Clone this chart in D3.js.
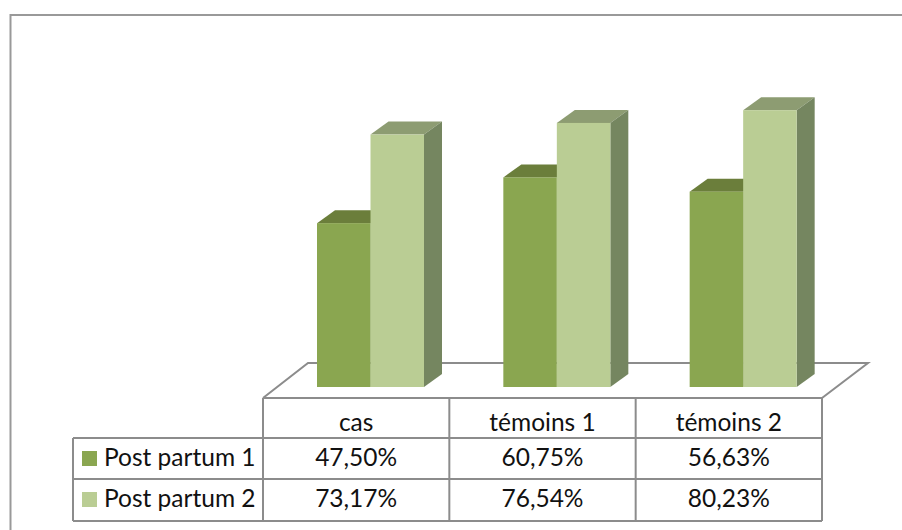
<!DOCTYPE html>
<html>
<head>
<meta charset="utf-8">
<script src="https://cdn.jsdelivr.net/npm/d3@7"></script>
<style>
  html, body { margin: 0; padding: 0; background: #fff; }
  svg { display: block; }
  text { font-family: Lato, "Open Sans", sans-serif; font-size: 24.5px; fill: #111; }
</style>
</head>
<body>
<div id="chart"></div>
<script>
var categories = ["cas", "témoins 1", "témoins 2"];
var seriesNames = ["Post partum 1", "Post partum 2"];
var postPartum1 = [47.50, 60.75, 56.63];
var postPartum2 = [73.17, 76.54, 80.23];
var allSeries = [postPartum1, postPartum2];

var frontColors = ["#8aa650", "#bacd94"];
var topColors = ["#6b7e3b", "#8d9c72"];
var sideColors = ["#6b7e3b", "#758660"];
var lineColor = "#8c8c8c";

var width = 902, height = 530;

// the table columns double as the category bands
var tableLeft = 263, tableRight = 822, legendLeft = 73;
var rows = [398, 438, 479, 521];
var floorBottom = 387;
var depthX = 18, depthY = 13;   // 3d offset of the bars
var floorBack = 363, floorBackX = 45;

var x = d3.scaleBand().domain(categories).range([tableLeft, tableRight]);
x.paddingInner(0).paddingOuter(0);
var xInner = d3.scaleBand().domain([0, 1]).range([54, 161]);
var y = d3.scaleLinear().domain([0, 100]).range([floorBottom, 42]);

function fmt(v) {
    return v.toFixed(2).replace(".", ",") + "%";
}

var svg = d3.select("#chart").append("svg")
    .attr("width", width)
    .attr("height", height);

// outer frame, only the top and left are in the crop
svg.append("path")
    .attr("d", d3.line()([[10.5, height], [10.5, 15], [width, 15]]))
    .attr("fill", "none")
    .attr("stroke", "#999")
    .attr("stroke-width", 2);

// floor of the 3d chart
svg.append("path")
    .attr("d", d3.line()([
        [tableLeft, rows[0]],
        [tableLeft + floorBackX, floorBack],
        [tableRight + 46, floorBack],
        [tableRight, rows[0]]
    ]))
    .attr("fill", "none")
    .attr("stroke", lineColor)
    .attr("stroke-width", 2);

// bars
var bars = [];
categories.forEach(function(c, i) {
    allSeries.forEach(function(s, j) {
        bars.push({cat: c, series: j, value: s[i]});
    });
});

var barG = svg.selectAll("g.bar").data(bars).enter().append("g").attr("class", "bar");

barG.append("path")
    .attr("fill", function(d) { return topColors[d.series]; })
    .attr("d", function(d) {
        var x0 = x(d.cat) + xInner(d.series), x1 = x0 + xInner.bandwidth(), t = y(d.value);
        return d3.line()([[x0, t], [x0 + depthX, t - depthY], [x1 + depthX, t - depthY], [x1, t]]) + "Z";
    });

barG.append("path")
    .attr("fill", function(d) { return sideColors[d.series]; })
    .attr("d", function(d) {
        var x1 = x(d.cat) + xInner(d.series) + xInner.bandwidth(), t = y(d.value);
        return d3.line()([[x1, t], [x1 + depthX, t - depthY], [x1 + depthX, floorBottom - depthY], [x1, floorBottom]]) + "Z";
    });

barG.append("rect")
    .attr("x", function(d) { return x(d.cat) + xInner(d.series); })
    .attr("y", function(d) { return y(d.value); })
    .attr("width", xInner.bandwidth())
    .attr("height", function(d) { return floorBottom - y(d.value); })
    .attr("fill", function(d) { return frontColors[d.series]; });

// draw the second series of each group over the first one's side
barG.filter(function(d) { return d.series == 1; }).raise();

// data table lines
var table = svg.append("g")
    .attr("stroke", lineColor)
    .attr("stroke-width", 2)
    .attr("fill", "none");

table.append("line").attr("x1", tableLeft).attr("x2", tableRight).attr("y1", rows[0]).attr("y2", rows[0]);
rows.slice(1).forEach(function(r) {
    table.append("line").attr("x1", legendLeft).attr("x2", tableRight).attr("y1", r).attr("y2", r);
});
table.append("line").attr("x1", legendLeft).attr("x2", legendLeft).attr("y1", rows[1]).attr("y2", rows[3]);
categories.forEach(function(c) {
    table.append("line").attr("x1", x(c)).attr("x2", x(c)).attr("y1", rows[0]).attr("y2", rows[3]);
});
table.append("line").attr("x1", tableRight).attr("x2", tableRight).attr("y1", rows[0]).attr("y2", rows[3]);

// column heads
svg.selectAll("text.head").data(categories).enter().append("text")
    .attr("class", "head")
    .attr("x", function(d) { return x(d) + x.bandwidth() / 2; })
    .attr("y", 431)
    .attr("text-anchor", "middle")
    .text(function(d) { return d; });

// legend rows
var baselines = [466, 507];
seriesNames.forEach(function(name, j) {
    svg.append("rect")
        .attr("x", 82)
        .attr("y", baselines[j] - 15)
        .attr("width", 15)
        .attr("height", 15)
        .attr("fill", frontColors[j]);
    svg.append("text")
        .attr("x", 104)
        .attr("y", baselines[j])
        .text(name);
    svg.selectAll("text.val" + j).data(allSeries[j]).enter().append("text")
        .attr("class", "val" + j)
        .attr("x", function(d, i) { return x(categories[i]) + x.bandwidth() / 2; })
        .attr("y", baselines[j])
        .attr("text-anchor", "middle")
        .text(function(d) { return fmt(d); });
});
</script>
</body>
</html>
